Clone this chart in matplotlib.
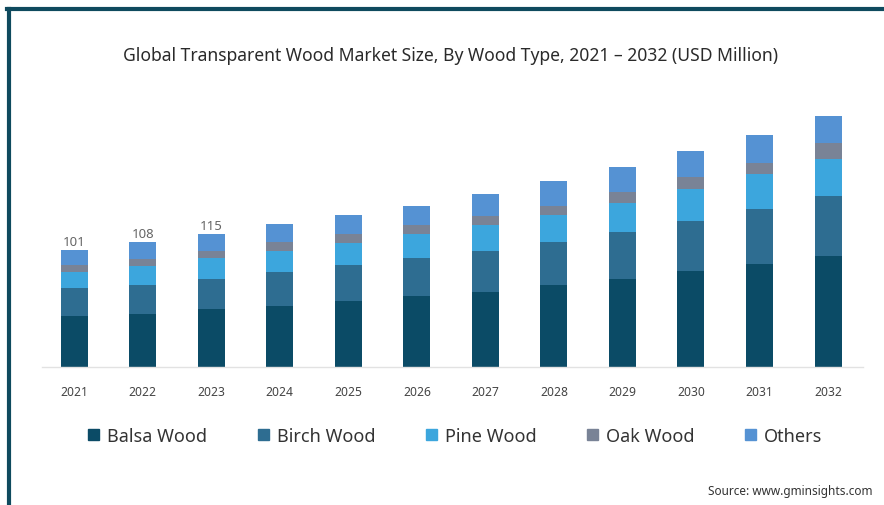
import matplotlib
matplotlib.use("Agg")
import matplotlib.pyplot as plt
from matplotlib.lines import Line2D
import numpy as np

plt.rcParams['font.family'] = ['Noto Sans', 'DejaVu Sans']

# values (USD million)
years = ['2021', '2022', '2023', '2024', '2025', '2026',
         '2027', '2028', '2029', '2030', '2031', '2032']
balsa = [44, 46, 50, 53, 57, 61, 65, 71, 76, 83, 89, 96]
birch = [24, 25, 26, 29, 31, 33, 35, 37, 40, 43, 47, 51]
pine = [14, 16, 18, 18, 19, 21, 22, 23, 25, 27, 30, 32]
oak = [6, 6, 6, 8, 8, 7, 8, 8, 10, 11, 10, 14]
others = [13, 15, 15, 15, 16, 17, 19, 21, 21, 22, 24, 23]
shown_totals = {0: '101', 1: '108', 2: '115'}

names = ['Balsa Wood', 'Birch Wood', 'Pine Wood', 'Oak Wood', 'Others']
colors = ['#0b4b66', '#2e6d91', '#3ca6dd', '#798396', '#5592d3']

fig = plt.figure(figsize=(8.84, 5.06), dpi=100)
ax = fig.add_axes([42/884, (506-368)/506, (863-42)/884, 268/506])

x = np.arange(len(years))
bottom = np.zeros(len(years))
handles = []
for vals, c, n in zip([balsa, birch, pine, oak, others], colors, names):
    ax.bar(x, vals, width=0.394, bottom=bottom, color=c, label=n, linewidth=0)
    bottom = bottom + np.array(vals)
    handles.append(plt.Rectangle((0, 0), 1, 1, color=c))

for i, txt in shown_totals.items():
    ax.annotate(txt, (x[i], bottom[i]), xytext=(0, 1), textcoords='offset points',
                ha='center', va='bottom', fontsize=9.5, color='#666666')

ax.set_xlim(-0.47, 11.51)
ax.set_ylim(0, 231)
ax.set_xticks(x)
ax.set_xticklabels(years, fontsize=8.7, color='#444444')
ax.tick_params(axis='x', length=0, pad=13)
ax.set_yticks([])
for s in ['top', 'right', 'left']:
    ax.spines[s].set_visible(False)
ax.spines['bottom'].set_color('#e2e2e2')
ax.spines['bottom'].set_linewidth(1)

fig.text(451/884, 1 - 56/506, 'Global Transparent Wood Market Size, By Wood Type, 2021 \u2013 2032 (USD Million)',
         ha='center', va='center', fontsize=12.6, color='#2a2a2a')

fig.legend(handles, names, loc='center', bbox_to_anchor=(455.5/884, 1 - 437/506), ncol=5,
           frameon=False, fontsize=13, handlelength=0.6, handleheight=0.6,
           handletextpad=0.45, columnspacing=2.8, labelcolor='#333333')

fig.text(872/884, 1 - 492/506, 'Source: www.gminsights.com', ha='right', va='center',
         fontsize=8.5, color='#333333')

# dark frame on top and left edges
fig.add_artist(Line2D([7.5/884, 1], [1 - 9.5/506, 1 - 9.5/506], transform=fig.transFigure,
                      color='#0f4a5e', linewidth=3))
fig.add_artist(Line2D([8.5/884, 8.5/884], [0, 1 - 9.5/506], transform=fig.transFigure,
                      color='#0f4a5e', linewidth=3))

fig.savefig('out.png', dpi=100)
